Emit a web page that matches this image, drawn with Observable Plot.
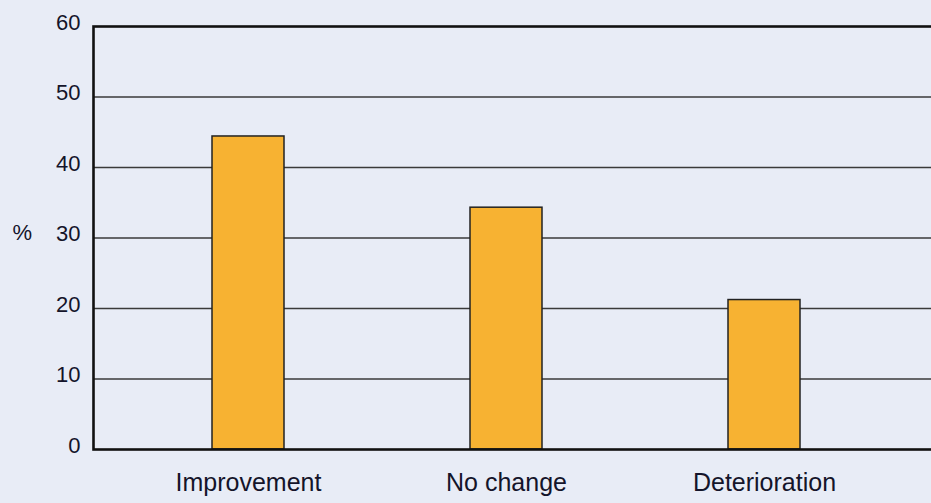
<!DOCTYPE html>
<html>
<head>
<meta charset="utf-8">
<script src="https://cdn.jsdelivr.net/npm/d3@7"></script>
<script src="https://cdn.jsdelivr.net/npm/@observablehq/plot@0.6"></script>
<style>
  html, body { margin: 0; padding: 0; background: #e8ecf6; overflow: hidden; }
  #chart svg { overflow: hidden; }
</style>
</head>
<body>
<div id="chart"></div>
<script>
const categories = ["Improvement", "No change", "Deterioration"];
const values = [44.4, 34.3, 21.2];
const yTicks = [0, 10, 20, 30, 40, 50, 60];
const gridTicks = [10, 20, 30, 40, 50];
const yLabel = "%";

const data = categories.map((c, i) => ({category: c, value: values[i]}));

const chart = Plot.plot({
  width: 931,
  height: 503,
  marginLeft: 93,
  marginRight: -3,
  marginTop: 26,
  marginBottom: 54,
  style: {background: "#e8ecf6", fontFamily: "'Liberation Sans', Arial, sans-serif", color: "#14142a", overflow: "hidden"},
  x: {domain: categories, range: [119, 893], paddingInner: 0.72, paddingOuter: 0.36, label: null},
  y: {domain: [0, 60], label: null},
  marks: [
    Plot.ruleY(gridTicks, {stroke: "#3a3a3a", strokeWidth: 1.5}),
    Plot.barY(data, {x: "category", y: "value", fill: "#f7b232", stroke: "#222", strokeWidth: 1.5}),
    Plot.frame({stroke: "#111", strokeWidth: 2.6}),
    Plot.axisY(yTicks, {tickSize: 0, tickPadding: 13, fontSize: 22, dy: -4, label: null}),
    Plot.axisX({tickSize: 0, tickPadding: 24, fontSize: 25, label: null}),
    Plot.text([yLabel], {frameAnchor: "left", dx: -81, dy: -5, text: d => d, fontSize: 22, textAnchor: "start"})
  ]
});
document.getElementById("chart").appendChild(chart);
</script>
</body>
</html>
